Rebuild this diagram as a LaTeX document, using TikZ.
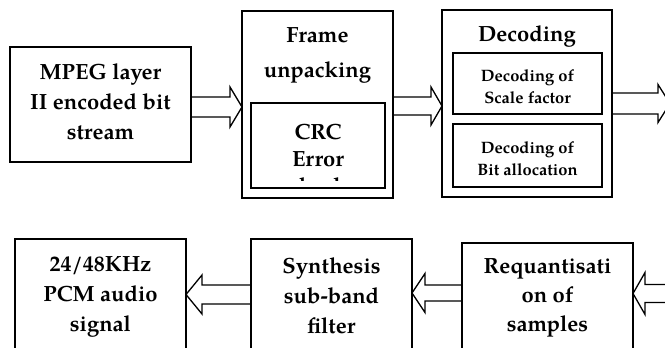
\documentclass[tikz,border=0pt]{standalone}
\usepackage{fontspec}
\setmainfont{texgyrepagella}[Extension=.otf,UprightFont=*-regular,BoldFont=*-bold,ItalicFont=*-italic,BoldItalicFont=*-bolditalic]
\usetikzlibrary{calc}
\tikzset{
  box/.style={draw, line width=1.6pt, inner sep=0pt, outer sep=0pt},
  big/.style={font=\fontsize{22}{30}\selectfont\bfseries, align=center, inner sep=0pt},
  small/.style={font=\fontsize{16.5}{22}\selectfont\bfseries, align=center, inner sep=0pt},
  blk/.style={draw, line width=1.3pt, line join=miter},
}
\newcommand\blockarrow[5]{\draw[blk] let \p1=(#1), \p2=(#2) in
  ({\x1},{\y2+#3}) -- ({\x2-(#5)},{\y2+#3}) -- ({\x2-(#5)},{\y2+#4}) -- ({\x2},{\y2})
  -- ({\x2-(#5)},{\y2-#4}) -- ({\x2-(#5)},{\y2-#3}) -- ({\x1},{\y2-#3});}
\begin{document}
\begin{tikzpicture}[x=1pt,y=-1pt]
\fill[white] (0,0) rectangle (665,348);
\useasboundingbox (0,0) rectangle (665,348);
\clip (0,0) rectangle (665,348);
% top row
\node[box, minimum width=181pt, minimum height=115pt] (b1) at (100.5,104.5) {};
\node[big] (t1) at (100.5,102) {MPEG layer\\II encoded bit\\stream};
\node[box, minimum width=151pt, minimum height=187pt] (b2) at (317.5,104.5) {};
\node[big, font=\fontsize{22}{35}\selectfont\bfseries] (t2) at (317.5,55) {Frame\\unpacking};
\node[box, minimum width=134pt, minimum height=85pt] (c2) at (318,145.5) {};
\begin{scope}
  \clip (252,104) rectangle (384,180);
  \node[big, font=\fontsize{22}{27}\selectfont\bfseries] (t2c) at (318,159) {CRC\\Error\\check};
\end{scope}
\node[box, minimum width=170pt, minimum height=187pt] (b3) at (527,103.5) {};
\node[big] (t3) at (527,37) {Decoding};
\node[box, minimum width=149pt, minimum height=61pt] (d1) at (527.5,83.5) {};
\node[small] (td1) at (527.5,87) {Decoding of\\Scale factor};
\node[box, minimum width=149pt, minimum height=63pt] (d2) at (527.5,155.5) {};
\node[small] (td2) at (527.5,158.5) {Decoding of\\Bit allocation};
% bottom row
\node[box, minimum width=171pt, minimum height=121pt] (b4) at (100.5,299.5) {};
\node[big] (t4) at (100.5,297) {24/48KHz\\PCM audio\\signal};
\node[box, minimum width=161pt, minimum height=121pt] (b5) at (331.5,299.5) {};
\node[big] (t5) at (331.5,296) {Synthesis\\sub-band\\filter};
\node[box, minimum width=171pt, minimum height=117pt] (b6) at (547.5,301.5) {};
\node[big, font=\fontsize{22}{29}\selectfont\bfseries] (t6) at (547.5,298) {Requantisati\\on of\\samples};
% arrows
\coordinate (y1) at (0,107);
\coordinate (y2) at (0,106);
\coordinate (a3t) at (670,103.5);
\coordinate (y4) at (0,294.5);
\coordinate (y5) at (0,293);
\coordinate (y6) at (0,293.5);
\coordinate (a6s) at (680,293.5);
\blockarrow{b1.east}{b2.west |- y1}{10pt}{20pt}{12pt}
\blockarrow{b2.east}{b3.west |- y2}{9pt}{19pt}{11pt}
\blockarrow{b3.east}{a3t}{10.5pt}{19pt}{12pt}
\blockarrow{b5.west}{b4.east |- y4}{9.5pt}{19.5pt}{-16pt}
\blockarrow{b6.west}{b5.east |- y5}{8pt}{19.5pt}{-13pt}
\blockarrow{a6s}{b6.east |- y6}{9pt}{21pt}{-12pt}
\end{tikzpicture}
\end{document}
